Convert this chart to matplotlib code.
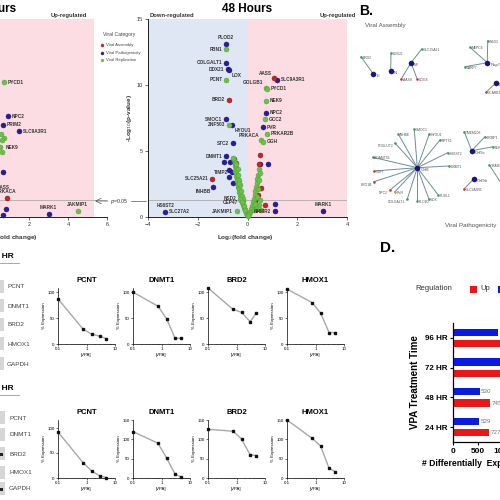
import matplotlib
matplotlib.use("Agg")
import matplotlib.pyplot as plt
from matplotlib.patches import Rectangle

plt.rcParams['font.family'] = ['Liberation Sans', 'DejaVu Sans']
plt.rcParams['axes.linewidth'] = 0.6

W = H = 500
fig = plt.figure(figsize=(5, 5), dpi=100)


def pax(l, t, r, b):
    return fig.add_axes([l / W, 1 - b / H, (r - l) / W, (b - t) / H])


def ftext(x, y, s, **kw):
    fig.text(x / W, 1 - y / H, s, **kw)


BLUE = '#2a1d9c'
GREEN = '#6cc04a'
RED = '#c3262b'
PINK_BG = '#fbdde3'
BLUE_BG = '#dfe7f5'

# ---------------- Volcano data (48 h) ----------------
v48_blue_x = [-0.87, -0.85, -0.79, -0.73, 1.18, 0.74, -0.85, -0.62, 0.61, -0.57, -0.86,
              -0.54, -0.93, -0.71, 0.50, 0.82, -0.74, -0.63, -0.74, -0.59, -1.37, 1.10, 1.10,
              3.03, -3.30]
v48_blue_y = [13.1, 11.7, 11.2, 11.1, 10.4, 7.9, 7.4, 6.95, 6.8, 5.6, 4.6,
              4.4, 4.2, 4.2, 4.0, 4.0, 3.56, 3.4, 3.05, 2.55, 2.3, 1.0, 0.45,
              0.45, 0.38]
v48_red_x = [1.05, -0.74, 0.51, -1.41, -0.47, 0.43, 0.54, 0.71, 0.47, 0.30, 0.35]
v48_red_y = [10.5, 8.9, 4.7, 2.9, 4.1, 1.67, 2.2, 0.9, 4.0, 1.2, 0.6]
v48_green_x = [-0.85, -0.85, 0.73, 0.78, 0.75, 0.71, -0.73, 0.78, 0.55, 0.61, -0.41,
               -0.55, -0.50, -0.52, -0.48, -0.50, -0.45, -0.47, -0.42, -0.44, -0.40, -0.38,
               -0.36, -0.33, -0.30, -0.28, -0.25, -0.22, -0.19, -0.16, -0.12, -0.08, -0.04,
               -0.40, -0.37, -0.33, -0.30, -0.27, -0.23, -0.19, -0.14, -0.10, -0.45, -0.58,
               -0.35, -0.20,
               0.45, 0.42, 0.40, 0.38, 0.35, 0.32, 0.29, 0.26, 0.22, 0.18, 0.14, 0.10, 0.06,
               0.02, 0.48, 0.44, 0.40, 0.50, 0.45, 0.35, 0.55, 0.30, 0.25, 0.50, -0.30, -0.22]
v48_green_y = [12.7, 10.4, 9.8, 9.7, 8.8, 7.4, 7.0, 6.3, 5.8, 5.7, 0.43,
               4.3, 4.1, 3.9, 3.7, 3.5, 3.3, 3.1, 2.9, 2.7, 2.5, 2.3,
               2.1, 1.9, 1.7, 1.5, 1.3, 1.1, 0.9, 0.7, 0.5, 0.3, 0.12,
               3.6, 3.2, 2.8, 2.4, 2.0, 1.6, 1.2, 0.85, 0.55, 4.0, 4.5,
               2.6, 1.4,
               3.6, 3.2, 2.9, 2.6, 2.3, 2.0, 1.7, 1.4, 1.1, 0.85, 0.6, 0.4, 0.2,
               0.05, 2.8, 2.1, 1.5, 1.3, 0.9, 0.7, 0.5, 1.0, 0.5, 3.3, 1.4, 1.1]
v48_label_names = ['PLOD2', 'FBN1', 'COLGALT1', 'DDX21', 'LOX', 'PCNT', 'AASS', 'SLC9A3R1',
                   'GOLGB1', 'PYCD1', 'BRD2', 'NEK9', 'NPC2', 'GCC2', 'SMOC1', 'ZNF503',
                   'HYOU1', 'PVR', 'PRKAR2B', 'PRKACA', 'GGH', 'STC2', 'DNMT1', 'SLC25A21',
                   'TIMP2', 'INHBB', 'NSD2', 'CEP47', 'JAKMIP1', 'NHMR2', 'MARK1', 'HS6ST2',
                   'SLC27A2']
v48_label_x = [-0.87, -0.85, -0.85, -0.79, -0.73, -0.85, 1.05, 1.18,
               0.73, 0.78, -0.74, 0.75, 0.74, 0.71, -0.85, -0.73,
               -0.62, 0.61, 0.78, 0.55, 0.61, -0.57, -0.86, -1.41,
               -0.63, -1.37, -0.30, -0.22, -0.41, 0.10, 3.03, -3.30,
               -3.30]
v48_label_y = [13.1, 12.7, 11.7, 11.2, 11.1, 10.4, 10.5, 10.4,
               9.8, 9.7, 8.9, 8.8, 7.9, 7.4, 7.4, 7.0,
               6.95, 6.8, 6.3, 5.8, 5.7, 5.6, 4.6, 2.9,
               3.4, 2.3, 1.4, 1.1, 0.43, 0.4, 0.45, 0.38,
               0.38]
v48_label_side = ['a', 'l', 'l', 'l', 'br', 'l', 'al', 'r',
                  'al', 'r', 'l', 'r', 'r', 'r', 'l', 'l',
                  'br', 'r', 'r', 'al', 'r', 'l', 'l', 'l',
                  'l', 'bl', 'l', 'l', 'l', 'r', 'a', 'a',
                  'r']

# ---------------- Volcano data (24 h, visible part) ----------------
v24_blue_x = [0.92, 0.67, 1.50, 0.68, 0.82, 0.68, 3.00]
v24_blue_y = [7.65, 7.0, 6.5, 3.4, 0.6, 0.15, 0.23]
v24_red_x = [0.89, 0.15]
v24_red_y = [1.44, 2.25]
v24_green_x = [0.73, 0.72, 0.60, 0.60, 0.52, 0.10, 4.50, 0.55]
v24_green_y = [10.2, 6.0, 5.8, 4.9, 5.3, 1.9, 0.45, 6.3]
v24_label_names = ['PYCD1', 'NPC2', 'PRIM2', 'SLC9A3R1', 'NEK9', 'AASS', 'PRKACA', 'MARK1', 'JAKMIP1']
v24_label_x = [0.73, 0.92, 0.67, 1.50, 0.60, 0.15, 0.10, 3.00, 4.50]
v24_label_y = [10.2, 7.65, 7.0, 6.5, 5.3, 2.25, 1.9, 0.23, 0.45]
v24_label_side = ['r', 'r', 'r', 'r', 'r', 'r', 'r', 'a', 'a']

OFFS = {'r': (2.8, 0, 'left', 'center'), 'l': (-2.8, 0, 'right', 'center'),
        'a': (0, 2.8, 'center', 'bottom'), 'al': (-1.5, 1.8, 'right', 'bottom'),
        'bl': (-1.5, -1.8, 'right', 'top'), 'br': (1.5, -1.8, 'left', 'top')}


def volcano(ax, xlim, pink_right, bx, by, rx, ry, gx, gy, ln, lx, ly, ls):
    ax.set_xlim(*xlim)
    ax.set_ylim(0, 15)
    ax.axvspan(xlim[0], 0, color=BLUE_BG, zorder=0, lw=0)
    ax.axvspan(0, pink_right, color=PINK_BG, zorder=0, lw=0)
    ax.axhline(1.3, color='#a0a0a0', lw=0.5, zorder=1)
    kw = dict(s=13, linewidths=0.3, zorder=3, clip_on=False)
    ax.scatter(bx, by, c=BLUE, edgecolors='#150f60', **kw)
    ax.scatter(rx, ry, c=RED, edgecolors='#7a1515', **kw)
    ax.scatter(gx, gy, c=GREEN, edgecolors='#4f9a35', **kw)
    for n, x, y, s in zip(ln, lx, ly, ls):
        dx, dy, ha, va = OFFS[s]
        ax.annotate(n, (x, y), xytext=(dx, dy), textcoords='offset points', ha=ha, va=va,
                    fontsize=3.4, fontweight='bold', color='#333333', zorder=4,
                    annotation_clip=False)
    for sp in ['top', 'right']:
        ax.spines[sp].set_visible(False)
    ax.set_yticks([0, 5, 10, 15])
    ax.tick_params(labelsize=4, length=2, width=0.5, pad=1.5, colors='#333333')


ax24 = pax(-88, 19, 107, 217)
volcano(ax24, (-4, 6), 5.33, v24_blue_x, v24_blue_y, v24_red_x, v24_red_y,
        v24_green_x, v24_green_y, v24_label_names, v24_label_x, v24_label_y, v24_label_side)
ax24.set_xticks([-4, -2, 0, 2, 4, 6])

ax48 = pax(148, 19, 347, 217)
volcano(ax48, (-4, 4), 4, v48_blue_x, v48_blue_y, v48_red_x, v48_red_y,
        v48_green_x, v48_green_y, v48_label_names, v48_label_x, v48_label_y, v48_label_side)
ax48.set_xticks([-4, -2, 0, 2, 4])

ftext(16, 9, '24 Hours', ha='right', va='center', fontsize=8.5, fontweight='bold')
ftext(247, 9, '48 Hours', ha='center', va='center', fontsize=8.5, fontweight='bold')
ftext(69, 16, 'Up-regulated', ha='center', va='center', fontsize=4.2, fontweight='bold', color='#333333')
ftext(150, 16, 'Down-regulated', ha='left', va='center', fontsize=4.2, fontweight='bold', color='#333333')
ftext(356, 16, 'Up-regulated', ha='right', va='center', fontsize=4.2, fontweight='bold', color='#333333')
ftext(129, 118, '-Log$_{10}$(p-value)', rotation=90, ha='center', va='center', fontsize=4.6,
      fontweight='bold', color='#333333')
ftext(245, 238, 'Log$_2$(fold change)', ha='center', va='center', fontsize=4.6,
      fontweight='bold', color='#333333')
ftext(9, 238, 'Log$_2$(fold change)', ha='center', va='center', fontsize=4.6,
      fontweight='bold', color='#333333')

# overlay axes in pixel coordinates
ov = fig.add_axes([0, 0, 1, 1])
ov.set_xlim(0, W)
ov.set_ylim(H, 0)
ov.axis('off')
ov.patch.set_alpha(0)

# legend of the volcano
legend_labels = ['Viral Assembly', 'Viral Pathogenicity', 'Viral Replication']
legend_colors = [RED, BLUE, GREEN]
ftext(103, 34, 'Viral Category', ha='left', va='center', fontsize=3.6, color='#444444')
for i, (lab, col) in enumerate(zip(legend_labels, legend_colors)):
    yy = 45 + i * 7.6
    ov.scatter([102.3], [yy], s=6, c=col, linewidths=0)
    ftext(106, yy, lab, ha='left', va='center', fontsize=3.1, color='#444444')

# p=0.05 annotation
ov.annotate('', xy=(95, 201), xytext=(108, 201),
            arrowprops=dict(arrowstyle='->', lw=0.5, color='#555555', shrinkA=0, shrinkB=0))
ov.plot([131, 146], [201, 201], color='#555555', lw=0.5)
ftext(119.5, 201, '$p$=0.05', ha='center', va='center', fontsize=3.8, color='#333333')

# ---------------- Panel B: network ----------------
net_names = ['E', 'N', 'M', 'Nsp7', 'Nsp8', 'Orf8', 'Orf9c', 'Orf9b',
             'BRD2', 'DDX21', 'SLC25A21', 'AASS', 'COG8', 'NSD2', 'MEPCE', 'LARP7', 'SCARB1',
             'SMOC1', 'INHBE', 'POGLUT2', 'HYOU1', 'NPTX1', 'HS6ST2', 'DNMT1', 'PUSL1', 'LOX',
             'PLOD2', 'COLGALT1', 'PVR', 'NPC2', 'ERO1B', 'GGH', 'ADAMTS1',
             'TMEM208', 'ERMP1', 'NLRX1', 'SLC9A3R1', 'TRAM1', 'Orf10']
net_x = [373.3, 390.7, 411.0, 487.3, 496.0, 417.3, 471.7, 474.0,
         361.0, 391.0, 421.7, 401.0, 417.3, 487.7, 470.0, 465.0, 486.0,
         414.3, 398.3, 395.0, 429.3, 440.0, 447.7, 449.0, 438.3, 429.0,
         417.3, 407.3, 395.0, 390.0, 374.0, 374.0, 372.7,
         464.3, 485.0, 493.3, 464.0, 489.3, 512.0]
net_y = [74.0, 71.0, 62.7, 62.7, 82.7, 167.7, 150.7, 178.7,
         56.7, 53.3, 49.0, 79.3, 79.3, 40.7, 47.3, 66.7, 92.3,
         129.3, 134.0, 143.0, 134.0, 140.0, 152.7, 166.0, 195.0, 199.3,
         201.0, 199.0, 191.7, 190.0, 181.7, 171.0, 157.3,
         131.7, 136.7, 146.7, 189.0, 165.0, 200.0]
net_kind = ['hub'] * 8 + ['g', 'g', 'g', 'r', 'r', 'g', 'g', 'g', 'r'] + \
           ['g'] * 11 + ['o', 'r', 'r', 'r', 'g'] + ['g', 'g', 'g', 'r', 'g', 'hub']
net_edges = [('E', 'BRD2'), ('N', 'DDX21'), ('M', 'SLC25A21'), ('M', 'AASS'), ('M', 'COG8'),
             ('Nsp7', 'NSD2'), ('Nsp7', 'MEPCE'), ('Nsp7', 'LARP7'), ('Nsp8', 'SCARB1'),
             ('Orf8', 'SMOC1'), ('Orf8', 'INHBE'), ('Orf8', 'POGLUT2'), ('Orf8', 'HYOU1'),
             ('Orf8', 'NPTX1'), ('Orf8', 'HS6ST2'), ('Orf8', 'DNMT1'), ('Orf8', 'PUSL1'),
             ('Orf8', 'LOX'), ('Orf8', 'PLOD2'), ('Orf8', 'COLGALT1'), ('Orf8', 'PVR'),
             ('Orf8', 'NPC2'), ('Orf8', 'ERO1B'), ('Orf8', 'GGH'), ('Orf8', 'ADAMTS1'),
             ('Orf9c', 'TMEM208'), ('Orf9c', 'ERMP1'), ('Orf9c', 'NLRX1'),
             ('Orf9b', 'SLC9A3R1'), ('Orf10', 'TRAM1')]
net_label_left = {'POGLUT2', 'COLGALT1', 'NPC2', 'ERO1B'}
pos = {n: (x, y) for n, x, y in zip(net_names, net_x, net_y)}
for a, b in net_edges:
    ov.plot([pos[a][0], pos[b][0]], [pos[a][1], pos[b][1]], color='#6e8f96', lw=0.7,
            zorder=2, clip_on=True)
kind_col = {'hub': '#1a1480', 'g': '#3f9a5e', 'r': '#d0303a', 'o': '#e08a3a'}
for n, x, y, k in zip(net_names, net_x, net_y, net_kind):
    ov.scatter([x], [y], s=16 if k == 'hub' else 3.5, c=kind_col[k], linewidths=0, zorder=3)
    if n in net_label_left:
        ov.text(x - 2, y + 3, n, fontsize=2.4, color='#555555', ha='right', va='center')
    else:
        ov.text(x + (3 if k == 'hub' else 1.8), y + (2 if k == 'hub' else 1), n,
                fontsize=3.2 if k == 'hub' else 2.4, color='#555555', ha='left', va='center')
ftext(359, 11, 'B.', ha='left', va='center', fontsize=10, fontweight='bold')
ftext(365, 25, 'Viral Assembly', ha='left', va='center', fontsize=4.5, color='#555555')
ftext(445, 226, 'Viral Pathogenicity', ha='left', va='center', fontsize=4.5, color='#555555')

# ---------------- Panel C: dose responses ----------------
conc = [0.1, 0.75, 1.5, 3, 5]
genes = ['PCNT', 'DNMT1', 'BRD2', 'HMOX1']
row1_expr = [[87, 29, 19, 15, 10],
             [100, 73, 49, 11, 11],
             [108, 67, 61, 43, 60],
             [106, 80, 60, 22, 22]]
row2_expr = [[92, 31, 14, 4, 1],
             [120, 90, 52, 10, 2],
             [126, 121, 101, 60, 58],
             [150, 103, 83, 25, 16]]
blot_labels = ['PCNT', 'DNMT1', 'BRD2', 'HMOX1', 'GAPDH']
row_titles = ['48 HR', '96 HR']

lefts = [58, 133, 208, 287]
row_boxes = [(288, 344), (420, 478)]
row_ylims = [[108, 108, 108, 108], [116, 150, 150, 150]]
row_yticks = [[[0, 50, 100]] * 4, [[0, 50, 100], [0, 50, 100, 150], [0, 50, 100, 150],
                                   [0, 50, 100, 150]]]
for r, (data, (t, b)) in enumerate(zip([row1_expr, row2_expr], row_boxes)):
    for j, (g, vals) in enumerate(zip(genes, data)):
        ax = pax(lefts[j], t, lefts[j] + 57, b)
        ax.plot(conc, vals, color='#a8a8a8', lw=1.0, marker='s', ms=1.6,
                mfc='#111111', mec='#111111', clip_on=False, zorder=3)
        ax.set_xscale('log')
        ax.set_xlim(0.1, 10)
        ax.set_ylim(0, row_ylims[r][j])
        ax.set_yticks(row_yticks[r][j])
        ax.set_xticks([0.1, 1, 10])
        ax.set_xticklabels(['0.1', '1', '10'])
        for sp in ['top', 'right']:
            ax.spines[sp].set_visible(False)
        for sp in ['left', 'bottom']:
            ax.spines[sp].set_linewidth(0.5)
        ax.tick_params(labelsize=3.2, length=1.5, width=0.4, pad=1)
        ax.tick_params(which='minor', length=1, width=0.3)
        ax.set_title(g, fontsize=5.5, fontweight='bold', pad=4)
        ax.set_xlabel('[VPA]', fontsize=3.2, labelpad=1)
        ax.set_ylabel('% Expression', fontsize=3.2, labelpad=1)

blot_ys = [[287, 306, 325, 344, 364], [418, 435, 454, 473, 489]]
head_ys = [257, 389]
for r in range(2):
    ftext(14, head_ys[r], row_titles[r], ha='right', va='center', fontsize=6, fontweight='bold')
    ov.plot([0, 19], [head_ys[r] + 6, head_ys[r] + 6], color='#999999', lw=0.6)
    for i, lab in enumerate(blot_labels):
        y = blot_ys[r][i]
        ov.add_patch(Rectangle((0, y - 7), 3.5 + r, 13, color='#d6d6d6', lw=0))
        if r == 1 and lab in ('BRD2', 'GAPDH'):
            ov.add_patch(Rectangle((0, y - 1.5), 2.5, 3, color='#222222', lw=0))
        ftext(7 + 2 * r, y, lab, ha='left', va='center', fontsize=4.6, color='#444444')

# ---------------- Panel D: bar chart ----------------
times = ['24 HR', '48 HR', '72 HR', '96 HR']
down_counts = [529, 530, 1080, 905]
up_counts = [727, 745, 1230, 1150]
axd = pax(453, 323, 528, 442)
ypos = range(len(times))
axd.barh([y + 0.19 for y in ypos], down_counts, height=0.25, color='#0b1be6')
axd.barh([y - 0.19 for y in ypos], up_counts, height=0.25, color='#ee1515')
for y, dv, uv in zip(ypos, down_counts, up_counts):
    axd.text(dv + 25, y + 0.19, str(dv), fontsize=4.5, color='#777777', va='center',
             clip_on=False)
    axd.text(uv + 25, y - 0.19, str(uv), fontsize=4.5, color='#777777', va='center',
             clip_on=False)
axd.set_xlim(0, 1500)
axd.set_ylim(-0.5, 3.5)
axd.set_yticks(list(ypos))
axd.set_yticklabels(times, fontsize=5.8, fontweight='bold')
axd.set_xticks([0, 500, 1000])
axd.set_xticklabels(['0', '500', '1000'], fontsize=6, fontweight='bold')
for sp in ['top', 'right']:
    axd.spines[sp].set_visible(False)
axd.spines['left'].set_linewidth(0.9)
axd.spines['bottom'].set_linewidth(0.9)
axd.tick_params(length=2.5, width=0.8, pad=1.5)
ftext(422, 464, '# Differentially  Expressed Genes', ha='left', va='center', fontsize=6.2,
      fontweight='bold')
ftext(415, 382, 'VPA Treatment Time', rotation=90, ha='center', va='center', fontsize=7,
      fontweight='bold')
ftext(380, 248, 'D.', ha='left', va='center', fontsize=11, fontweight='bold')
ftext(415, 289, 'Regulation', ha='left', va='center', fontsize=5.5, color='#333333')
ov.add_patch(Rectangle((469.5, 285.5), 7, 7, color='#ee1515', lw=0))
ftext(480, 289, 'Up', ha='left', va='center', fontsize=5.5, color='#333333')
ov.add_patch(Rectangle((498, 285.5), 7, 7, color='#0b1be6', lw=0))

fig.savefig('out.png', dpi=100)
